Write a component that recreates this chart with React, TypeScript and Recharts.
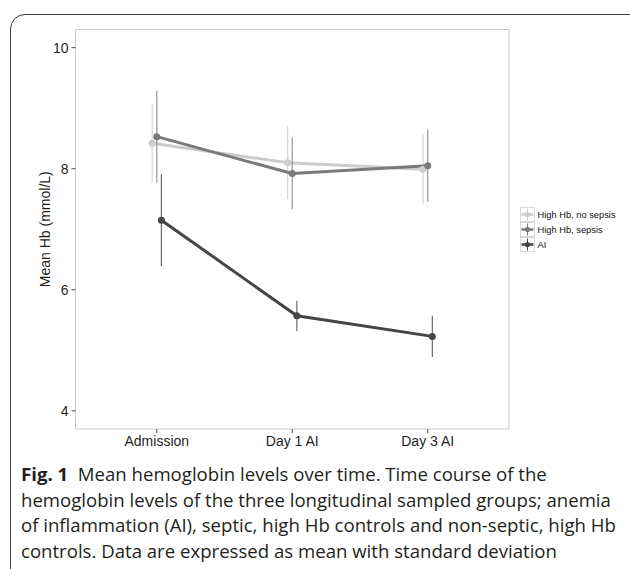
import React from 'react';
import { LineChart, Line, XAxis, YAxis, ErrorBar, ReferenceArea } from 'recharts';

// time points on the x axis
const timepoints = ['Admission', 'Day 1 AI', 'Day 3 AI'];
const tickValues = [1, 2, 3];
const yTicks = [4, 6, 8, 10];

// mean Hb (mmol/L) and standard deviation per group
const noSepsisMean = [8.42, 8.1, 7.99];
const noSepsisSd = [0.66, 0.6, 0.58];
const sepsisMean = [8.53, 7.92, 8.05];
const sepsisSd = [0.76, 0.59, 0.6];
const aiMean = [7.15, 5.57, 5.23];
const aiSd = [0.76, 0.25, 0.34];

interface Point {
  x: number;
  y: number;
  err: number;
}

// ggplot style position_dodge, small horizontal shift per group
const buildSeries = (means: number[], sds: number[], dodge: number): Point[] =>
  means.map((m, i) => ({ x: tickValues[i] + dodge, y: m, err: sds[i] }));

const series = [
  { name: 'High Hb, no sepsis', color: '#cccccc', data: buildSeries(noSepsisMean, noSepsisSd, -0.034) },
  { name: 'High Hb, sepsis', color: '#7a7a7a', data: buildSeries(sepsisMean, sepsisSd, 0) },
  { name: 'AI', color: '#454545', data: buildSeries(aiMean, aiSd, 0.034) },
];

const axisFont = { fontFamily: '"Liberation Sans", Arial, sans-serif', fontSize: 14, fill: '#1f1f1f' };

function LegendKeys() {
  return (
    <div style={{ fontFamily: '"Liberation Sans", Arial, sans-serif', fontSize: 9.3, color: '#111' }}>
      {series.map((s) => (
        <div key={s.name} style={{ display: 'flex', alignItems: 'center', height: 15 }}>
          <svg width={15} height={15} style={{ display: 'block' }}>
            <rect x={0.5} y={0.5} width={14} height={14} fill="#fff" stroke="#d9d9d9" />
            <line x1={1.5} x2={13.5} y1={7.5} y2={7.5} stroke={s.color} strokeWidth={2.5} />
            <line x1={7.5} x2={7.5} y1={1.5} y2={13.5} stroke={s.color} strokeWidth={1} />
            <circle cx={7.5} cy={7.5} r={2.6} fill={s.color} />
          </svg>
          <span style={{ marginLeft: 2.5, whiteSpace: 'nowrap' }}>{s.name}</span>
        </div>
      ))}
    </div>
  );
}

const captionLines = [
  'Mean hemoglobin levels over time. Time course of the',
  'hemoglobin levels of the three longitudinal sampled groups; anemia',
  'of inflammation (AI), septic, high Hb controls and non-septic, high Hb',
  'controls. Data are expressed as mean with standard deviation',
];

export default function App() {
  return (
    <div style={{ position: 'absolute', left: 0, top: 0, width: 630, height: 569, background: '#fff', overflow: 'hidden' }}>
      {/* figure frame */}
      <div
        style={{
          position: 'absolute',
          left: 10,
          top: 14,
          width: 640,
          height: 570,
          border: '1.5px solid #3c3c3c',
          borderRadius: 15,
          boxSizing: 'border-box',
        }}
      />
      <div style={{ position: 'absolute', left: 0, top: 0 }}>
        <LineChart width={630} height={460} margin={{ top: 29.5, right: 121, bottom: 0, left: 0 }}>
          <ReferenceArea
            x1={0.4}
            x2={3.6}
            y1={3.7}
            y2={10.3}
            fill="none"
            stroke="#c9c9c9"
            strokeWidth={1}
            ifOverflow="visible"
          />
          <XAxis
            type="number"
            dataKey="x"
            domain={[0.4, 3.6]}
            ticks={tickValues}
            tickFormatter={(v: number) => timepoints[v - 1]}
            allowDataOverflow
            height={31}
            tickSize={4}
            tickMargin={3}
            axisLine={false}
            tickLine={{ stroke: '#4d4d4d' }}
            tick={axisFont}
          />
          <YAxis
            type="number"
            dataKey="y"
            domain={[3.7, 10.3]}
            ticks={yTicks}
            allowDataOverflow
            width={75.5}
            tickSize={4}
            tickMargin={3}
            axisLine={false}
            tickLine={{ stroke: '#4d4d4d' }}
            tick={axisFont}
            label={{
              value: 'Mean Hb (mmol/L)',
              angle: -90,
              position: 'center',
              dx: 7,
              style: { ...axisFont, textAnchor: 'middle' },
            }}
          />
          {series.map((s) => (
            <Line
              key={s.name}
              name={s.name}
              data={s.data}
              dataKey="y"
              type="linear"
              stroke={s.color}
              strokeWidth={3}
              dot={{ r: 3.5, fill: s.color, stroke: s.color, strokeWidth: 0 }}
              activeDot={false}
              isAnimationActive={false}
            >
              <ErrorBar dataKey="err" direction="y" width={0} stroke={s.color} strokeWidth={1.2} strokeOpacity={0.8} />
            </Line>
          ))}
        </LineChart>
      </div>
      {/* legend, outside the plot like ggplot */}
      <div style={{ position: 'absolute', left: 520, top: 207 }}>
        <LegendKeys />
      </div>
      {/* caption */}
      <div
        style={{
          position: 'absolute',
          left: 21,
          top: 461,
          fontFamily: '"Open Sans", sans-serif',
          fontSize: 18.6,
          lineHeight: '25.7px',
          color: '#231f20',
          whiteSpace: 'nowrap',
        }}
      >
        {captionLines.map((line, i) => (
          <div key={i}>
            {i === 0 && <span style={{ fontWeight: 700 }}>Fig. 1</span>}
            {i === 0 ? '\u00a0\u00a0' + line : line}
          </div>
        ))}
      </div>
    </div>
  );
}
